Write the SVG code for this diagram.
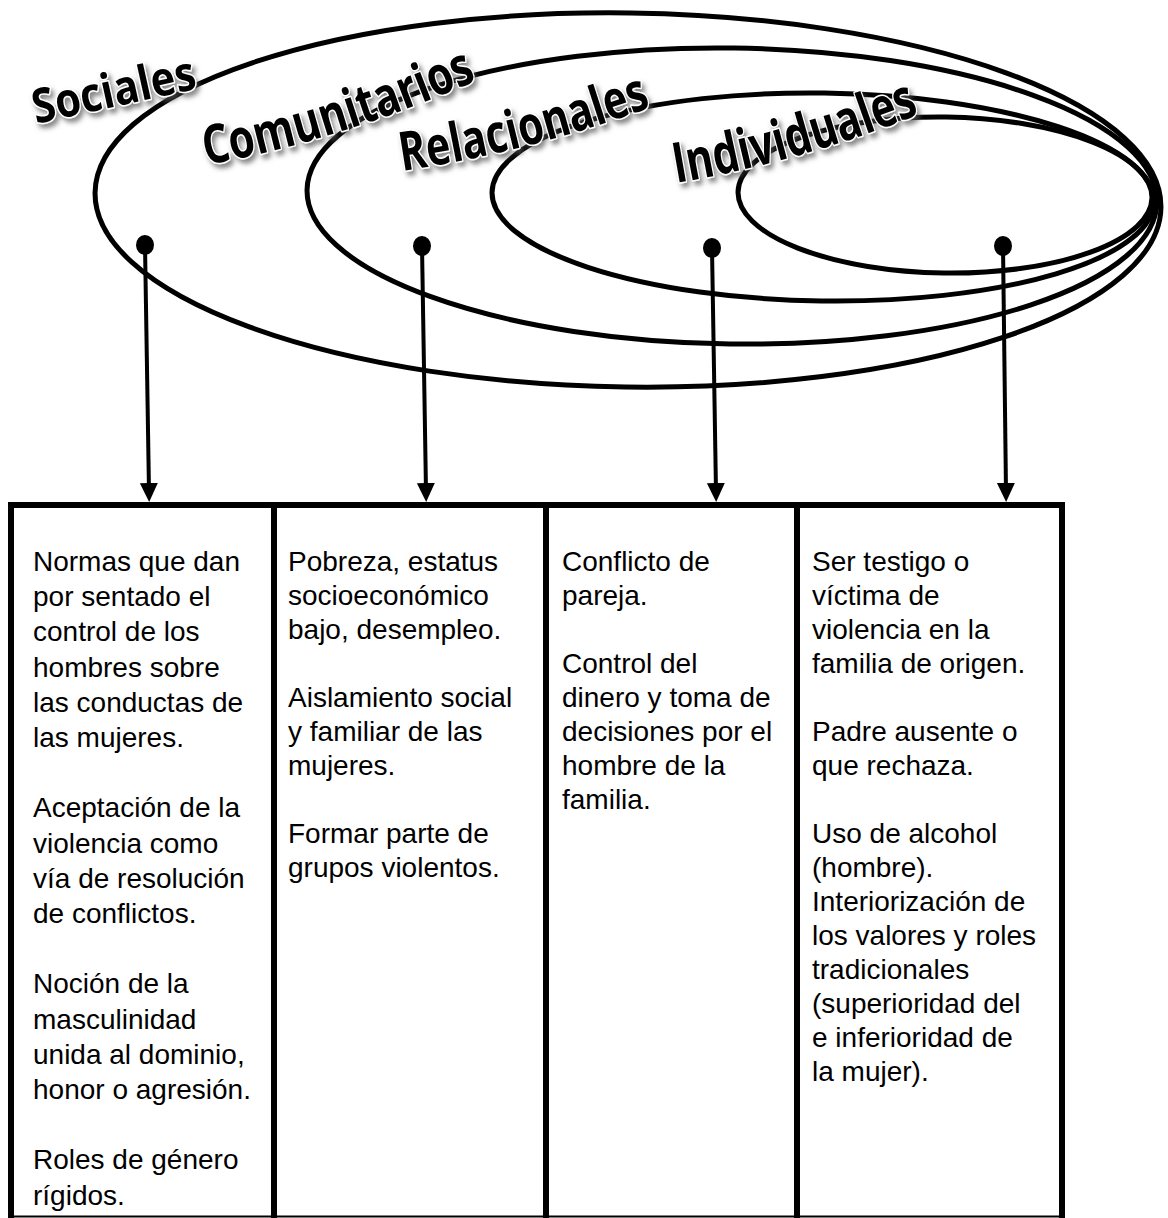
<svg xmlns="http://www.w3.org/2000/svg" width="1168" height="1218" viewBox="0 0 1168 1218">
<style>
.ring{fill:none;stroke:#000;stroke-width:5}
.lbl{font-family:"Open Sans","Liberation Sans",sans-serif;font-weight:bold;fill:#000;stroke:#fff;stroke-width:3;paint-order:stroke;stroke-linejoin:round}
.conn{stroke:#000;stroke-width:4;fill:none}
.frame{stroke:#000;stroke-width:6;fill:none}
.cell{font-family:"Liberation Sans",Arial,sans-serif;font-size:28px;fill:#000}
</style>
<defs>
<filter id="shadow" x="-10%" y="-30%" width="130%" height="170%">
<feDropShadow dx="3" dy="4" stdDeviation="2.5" flood-color="#555" flood-opacity="0.7"/>
</filter>
<marker id="dot" markerUnits="userSpaceOnUse" viewBox="0 0 22 22" refX="11" refY="11" markerWidth="22" markerHeight="22" orient="auto">
<ellipse cx="11" cy="11" rx="10" ry="9" fill="#000"/>
</marker>
<marker id="arrow" markerUnits="userSpaceOnUse" viewBox="0 0 20 20" refX="8" refY="10" markerWidth="20" markerHeight="20" orient="auto">
<path d="M0,1 L19,10 L0,19 Z" fill="#000"/>
</marker>
<path id="pSoc" d="M36,124 L200,88"/>
<path id="pCom" d="M206,165 Q335,142 478,80"/>
<path id="pRel" d="M402,171 Q530,152 654,106"/>
<path id="pInd" d="M676,183 Q800,162 920,114"/>
</defs>

<g id="ring-sociales"><ellipse class="ring" cx="628" cy="200" rx="533" ry="187" transform="rotate(0.8 628 200)"/></g>
<g id="ring-comunitarios"><ellipse class="ring" cx="732" cy="196" rx="425" ry="148" transform="rotate(0.8 732 196)"/></g>
<g id="ring-relacionales"><ellipse class="ring" cx="823" cy="197" rx="331" ry="104" transform="rotate(0.8 823 197)"/></g>
<g id="ring-individuales"><ellipse class="ring" cx="945" cy="195" rx="207" ry="78" transform="rotate(0.8 945 195)"/></g>

<g id="label-sociales" filter="url(#shadow)"><text class="lbl" font-size="48"><textPath href="#pSoc" textLength="166" lengthAdjust="spacingAndGlyphs">Sociales</textPath></text></g>
<g id="label-comunitarios" filter="url(#shadow)"><text class="lbl" font-size="54"><textPath href="#pCom" textLength="285" lengthAdjust="spacingAndGlyphs">Comunitarios</textPath></text></g>
<g id="label-relacionales" filter="url(#shadow)"><text class="lbl" font-size="54"><textPath href="#pRel" textLength="258" lengthAdjust="spacingAndGlyphs">Relacionales</textPath></text></g>
<g id="label-individuales" filter="url(#shadow)"><text class="lbl" font-size="56"><textPath href="#pInd" textLength="254" lengthAdjust="spacingAndGlyphs">Individuales</textPath></text></g>

<g id="connectors">
<line class="conn" x1="145" y1="245" x2="149" y2="491" marker-start="url(#dot)" marker-end="url(#arrow)"/>
<line class="conn" x1="422" y1="246" x2="426" y2="491" marker-start="url(#dot)" marker-end="url(#arrow)"/>
<line class="conn" x1="712" y1="248" x2="716" y2="491" marker-start="url(#dot)" marker-end="url(#arrow)"/>
<line class="conn" x1="1003" y1="246" x2="1006" y2="491" marker-start="url(#dot)" marker-end="url(#arrow)"/>
</g>

<g id="table-frame">
<line class="frame" x1="8" y1="505" x2="1065" y2="505"/>
<line class="frame" x1="11" y1="502" x2="11" y2="1218"/>
<line class="frame" x1="274" y1="505" x2="274" y2="1218"/>
<line class="frame" x1="546" y1="505" x2="546" y2="1218"/>
<line class="frame" x1="797" y1="505" x2="797" y2="1218"/>
<line class="frame" x1="1062" y1="502" x2="1062" y2="1218"/>
<line x1="8" y1="1216.5" x2="1065" y2="1216.5" stroke="#000" stroke-width="2"/>
</g>

<g id="col-sociales">
<text class="cell">
<tspan x="33" y="571">Normas que dan</tspan>
<tspan x="33" y="606.2">por sentado el</tspan>
<tspan x="33" y="641.4">control de los</tspan>
<tspan x="33" y="676.6">hombres sobre</tspan>
<tspan x="33" y="711.8">las conductas de</tspan>
<tspan x="33" y="747">las mujeres.</tspan>
<tspan x="33" y="817.4">Aceptación de la</tspan>
<tspan x="33" y="852.6">violencia como</tspan>
<tspan x="33" y="887.8">vía de resolución</tspan>
<tspan x="33" y="923">de conflictos.</tspan>
<tspan x="33" y="993.4">Noción de la</tspan>
<tspan x="33" y="1028.6">masculinidad</tspan>
<tspan x="33" y="1063.8">unida al dominio,</tspan>
<tspan x="33" y="1099">honor o agresión.</tspan>
<tspan x="33" y="1169.4">Roles de género</tspan>
<tspan x="33" y="1204.6">rígidos.</tspan>
</text>
</g>

<g id="col-comunitarios">
<text class="cell">
<tspan x="288" y="571">Pobreza, estatus</tspan>
<tspan x="288" y="605">socioeconómico</tspan>
<tspan x="288" y="639">bajo, desempleo.</tspan>
<tspan x="288" y="707">Aislamiento social</tspan>
<tspan x="288" y="741">y familiar de las</tspan>
<tspan x="288" y="775">mujeres.</tspan>
<tspan x="288" y="843">Formar parte de</tspan>
<tspan x="288" y="877">grupos violentos.</tspan>
</text>
</g>

<g id="col-relacionales">
<text class="cell">
<tspan x="562" y="571">Conflicto de</tspan>
<tspan x="562" y="605">pareja.</tspan>
<tspan x="562" y="673">Control del</tspan>
<tspan x="562" y="707">dinero y toma de</tspan>
<tspan x="562" y="741">decisiones por el</tspan>
<tspan x="562" y="775">hombre de la</tspan>
<tspan x="562" y="809">familia.</tspan>
</text>
</g>

<g id="col-individuales">
<text class="cell">
<tspan x="812" y="571">Ser testigo o</tspan>
<tspan x="812" y="605">víctima de</tspan>
<tspan x="812" y="639">violencia en la</tspan>
<tspan x="812" y="673">familia de origen.</tspan>
<tspan x="812" y="741">Padre ausente o</tspan>
<tspan x="812" y="775">que rechaza.</tspan>
<tspan x="812" y="843">Uso de alcohol</tspan>
<tspan x="812" y="877">(hombre).</tspan>
<tspan x="812" y="911">Interiorización de</tspan>
<tspan x="812" y="945">los valores y roles</tspan>
<tspan x="812" y="979">tradicionales</tspan>
<tspan x="812" y="1013">(superioridad del</tspan>
<tspan x="812" y="1047">e inferioridad de</tspan>
<tspan x="812" y="1081">la mujer).</tspan>
</text>
</g>
</svg>
